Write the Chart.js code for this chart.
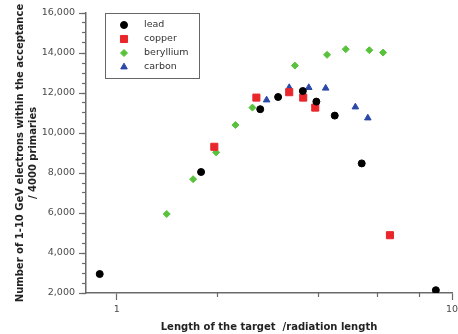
<!DOCTYPE html>
<html>
<head>
<meta charset="utf-8">
<script src="https://cdn.jsdelivr.net/npm/chart.js@4.4.1/dist/chart.umd.min.js"></script>
<style>
  html, body { margin: 0; padding: 0; background: #fff; }
  #wrap { width: 458px; height: 334px; }
</style>
</head>
<body>
<div id="wrap"><canvas id="chart" width="458" height="334"></canvas></div>
<script>
// target length in radiation lengths / electrons per 4000 primaries
var leadX = [0.89, 1.785, 2.68, 3.03, 3.59, 3.94, 4.47, 5.38, 8.95];
var leadY = [2950, 8050, 11190, 11800, 12100, 11570, 10870, 8480, 2140];

var copperX = [1.955, 2.61, 3.27, 3.60, 3.91, 6.53];
var copperY = [9310, 11770, 12040, 11770, 11270, 4890];

var berylliumX = [1.41, 1.69, 1.98, 2.26, 2.54, 3.40, 4.24, 4.82, 5.67, 6.23];
var berylliumY = [5950, 7690, 9030, 10400, 11270, 13370, 13910, 14190, 14140, 14020];

var carbonX = [2.80, 3.27, 3.74, 4.20, 5.15, 5.61];
var carbonY = [11650, 12270, 12270, 12240, 11300, 10750];

var xMajorTicks = [1, 10];
var xMinorTicks = [2, 4, 6, 8];
var yMin = 2000, yMax = 16000, yMajorStep = 2000, yMinorStep = 500;
var xMin = 0.81, xMax = 10;

function pts(xs, ys) {
  return xs.map(function(x, i) { return { x: x, y: ys[i] }; });
}

var axisColor = '#6a6a6a';
var minorColor = '#6a6a6a';
var textColor = '#4a4a4a';
var fontFamily = 'DejaVu Sans';

// legend drawn inside the plot, top-left, with a frame
var boxLegend = {
  id: 'boxLegend',
  afterDatasetsDraw: function(chart) {
    var ctx = chart.ctx;
    var area = chart.chartArea;
    var x0 = area.left + 19, y0 = area.top, w = 94, h = 65;
    ctx.save();
    ctx.fillStyle = '#fff';
    ctx.fillRect(x0, y0, w, h);
    ctx.strokeStyle = '#666';
    ctx.lineWidth = 1;
    ctx.strokeRect(x0 + 0.5, y0 + 0.5, w, h);
    ctx.font = '9.5px "' + fontFamily + '"';
    ctx.textBaseline = 'middle';
    chart.data.datasets.forEach(function(ds, i) {
      var cy = y0 + 12 + i * 14;
      ctx.fillStyle = ds.backgroundColor;
      ctx.strokeStyle = ds.borderColor;
      Chart.helpers.drawPoint(ctx, {
        pointStyle: ds.pointStyle, radius: ds.pointRadius, rotation: 0, borderWidth: 1
      }, x0 + 19, cy);
      ctx.fillStyle = '#333';
      ctx.fillText(ds.label, x0 + 39, cy);
    });
    ctx.restore();
  }
};

function ticksFrom(list) {
  return function(s) { s.ticks = list.map(function(v) { return { value: v }; }); };
}

var tickFont = { family: fontFamily, size: 9.5 };

new Chart(document.getElementById('chart'), {
  type: 'scatter',
  data: {
    datasets: [
      { label: 'lead', data: pts(leadX, leadY), pointStyle: 'circle', pointRadius: 3.5,
        backgroundColor: '#000', borderColor: '#000', borderWidth: 1, xAxisID: 'x', yAxisID: 'y' },
      { label: 'copper', data: pts(copperX, copperY), pointStyle: 'rect', pointRadius: 5,
        backgroundColor: '#e8262b', borderColor: '#e8262b', borderWidth: 1, xAxisID: 'x', yAxisID: 'y' },
      { label: 'beryllium', data: pts(berylliumX, berylliumY), pointStyle: 'rectRot', pointRadius: 3.5,
        backgroundColor: '#58c23c', borderColor: '#58c23c', borderWidth: 1, xAxisID: 'x', yAxisID: 'y' },
      { label: 'carbon', data: pts(carbonX, carbonY), pointStyle: 'triangle', pointRadius: 3.8,
        backgroundColor: '#2b48a8', borderColor: '#2b48a8', borderWidth: 1, xAxisID: 'x', yAxisID: 'y' }
    ]
  },
  options: {
    responsive: false,
    animation: false,
    events: [],
    layout: { padding: { top: 13, right: 4, bottom: 0, left: 0 } },
    plugins: { legend: { display: false }, tooltip: { enabled: false } },
    scales: {
      x: {
        type: 'logarithmic',
        position: 'bottom',
        min: xMin,
        max: xMax,
        afterBuildTicks: ticksFrom(xMajorTicks),
        afterFit: function(s) {
          s.height = 41;
          s.paddingLeft = 0;
          s.paddingRight = 0;
        },
        border: { color: axisColor, width: 1.5 },
        grid: { drawOnChartArea: false, color: axisColor, tickLength: 7, tickWidth: 1.2 },
        ticks: {
          autoSkip: false,
          maxRotation: 0,
          padding: 4,
          color: textColor,
          font: tickFont,
          callback: function(v) { return String(v); }
        },
        title: {
          display: true,
          text: 'Length of the target  /radiation length',
          color: '#222',
          font: { family: fontFamily, size: 10, weight: 'bold', lineHeight: 1.2 },
          padding: { top: 0, bottom: 1 }
        }
      },
      xMinor: {
        type: 'logarithmic',
        position: 'bottom',
        weight: -1,
        min: xMin,
        max: xMax,
        afterBuildTicks: ticksFrom(xMinorTicks),
        afterFit: function(s) {
          s.height = 0;
          s.paddingLeft = 0;
          s.paddingRight = 0;
        },
        border: { display: false },
        grid: { drawOnChartArea: false, color: minorColor, tickLength: 4, tickWidth: 1.2 },
        ticks: { display: false, autoSkip: false }
      },
      y: {
        position: 'left',
        min: yMin,
        max: yMax,
        afterFit: function(s) {
          s.width = 86;
          s.paddingTop = 0;
          s.paddingBottom = 0;
        },
        border: { color: axisColor, width: 1.5 },
        grid: { drawOnChartArea: false, color: axisColor, tickLength: 7, tickWidth: 1.2 },
        ticks: {
          stepSize: yMajorStep,
          autoSkip: false,
          padding: 4,
          color: textColor,
          font: tickFont,
          callback: function(v) { return v.toLocaleString('en-US'); }
        },
        title: {
          display: true,
          text: ['Number of 1-10 GeV electrons within the acceptance', '/ 4000 primaries'],
          color: '#222',
          font: { family: fontFamily, size: 10, weight: 'bold', lineHeight: 1.3 },
          padding: { top: 13.5, bottom: 0 }
        }
      },
      yMinor: {
        position: 'left',
        weight: -1,
        min: yMin,
        max: yMax,
        afterFit: function(s) {
          s.width = 0;
          s.paddingTop = 0;
          s.paddingBottom = 0;
        },
        border: { display: false },
        grid: { drawOnChartArea: false, color: minorColor, tickLength: 4, tickWidth: 1.2 },
        ticks: { display: false, stepSize: yMinorStep, autoSkip: false }
      }
    }
  },
  plugins: [boxLegend]
});
</script>
</body>
</html>
